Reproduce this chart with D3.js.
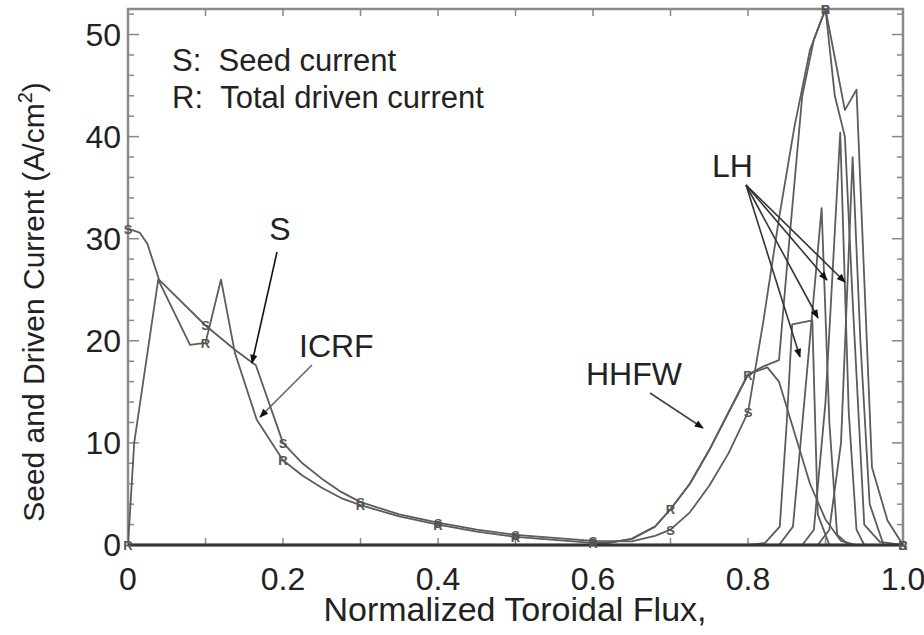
<!DOCTYPE html>
<html>
<head>
<meta charset="utf-8">
<script src="https://cdn.jsdelivr.net/npm/d3@7"></script>
<style>
  body { margin: 0; background: #fff; }
  text { font-family: "Liberation Sans", Arial, sans-serif; fill: #222; white-space: pre; }
</style>
</head>
<body>
<svg id="chart" width="924" height="635"></svg>
<script>
// seed current profile (S markers)
var seedCurrent = [[0,31],[0.015,30.6],[0.025,29.5],[0.04,26],[0.1,21.5],[0.14,19],[0.165,17.6],[0.2,10],
  [0.225,8.0],[0.25,6.5],[0.275,5.2],[0.3,4.2],[0.35,3.0],[0.4,2.2],[0.45,1.5],[0.5,1.0],[0.55,0.7],[0.6,0.4],
  [0.65,0.35],[0.68,0.9],[0.7,1.5],[0.725,3.2],[0.75,5.8],[0.775,9],[0.8,13],[0.82,22],[0.84,32],[0.86,41],
  [0.88,48.5],[0.9,52.5],[0.925,42.6],[0.94,44.6],[0.96,7.6],[0.98,2.4],[1.0,0]];
// total driven current (R markers)
var totalCurrent = [[0,0],[0.008,10],[0.039,26],[0.08,19.6],[0.1,19.8],[0.12,26],[0.138,18.8],[0.166,12.3],
  [0.2,8.3],[0.225,6.8],[0.25,5.6],[0.275,4.6],[0.3,3.9],[0.35,2.8],[0.4,2.0],[0.45,1.3],[0.5,0.8],[0.55,0.5],
  [0.6,0.2],[0.62,0.2],[0.65,0.6],[0.68,1.8],[0.7,3.5],[0.725,6],[0.75,9.3],[0.775,13],[0.8,16.7],[0.82,17.5],
  [0.84,18.1],[0.85,27],[0.87,44],[0.885,49.5],[0.9,52.5],[0.912,44],[0.925,40],[0.935,24],[0.95,2],[0.97,0.3],[1.0,0]];
var hhfwCurrent = [[0.6,0],[0.62,0.2],[0.65,0.6],[0.68,1.8],[0.7,3.5],[0.725,6],[0.75,9.3],[0.775,13],[0.8,16.7],
  [0.825,17.4],[0.84,16],[0.86,11],[0.88,6],[0.9,2.5],[0.92,0.4],[0.94,0]];
var lh1 = [[0.8,0],[0.822,0.2],[0.841,1.8],[0.85,12],[0.857,21.6],[0.883,22],[0.89,3],[0.905,0]];
var lh2 = [[0.84,0],[0.858,1.8],[0.875,16],[0.895,33],[0.905,12],[0.915,1],[0.93,0]];
var lh3 = [[0.87,0],[0.885,1.5],[0.9,14],[0.919,40.4],[0.93,13],[0.94,1.5],[0.95,0]];
var lh4 = [[0.89,0],[0.905,1.5],[0.92,10],[0.935,38],[0.945,20],[0.957,4],[0.975,0]];

var markerX = [0,0.1,0.2,0.3,0.4,0.5,0.6,0.7,0.8,0.9,1.0];
var xTicks = [0,0.2,0.4,0.6,0.8,1.0];
var xTickLabels = ["0","0.2","0.4","0.6","0.8","1.0"];
var yTicks = [0,10,20,30,40,50];

var svg = d3.select("#chart");
var m = {left: 128, right: 903, top: 9, bottom: 545};

var x = d3.scaleLinear().domain([0,1]).range([m.left,m.right]);
var y = d3.scaleLinear().domain([0,52.5]).range([m.bottom,m.top]);

// arrowhead
var defs = svg.append("defs");
defs.append("marker")
  .attr("id","arrow").attr("viewBox","0 0 10 10").attr("refX",9).attr("refY",5)
  .attr("markerWidth",10).attr("markerHeight",9).attr("markerUnits","userSpaceOnUse")
  .attr("orient","auto")
  .append("path").attr("d","M0,1L10,5L0,9Z").attr("fill","#111");
defs.append("clipPath").attr("id","clip")
  .append("rect").attr("x",m.left).attr("y",m.top).attr("width",m.right-m.left).attr("height",m.bottom-m.top);

// ticks, inward
var ax = svg.append("g").attr("stroke","#888").attr("stroke-width",1.5);
d3.range(0,1.0001,0.1).forEach(function(t){
  ax.append("line").attr("x1",x(t)).attr("x2",x(t)).attr("y1",m.bottom).attr("y2",m.bottom-7);
  ax.append("line").attr("x1",x(t)).attr("x2",x(t)).attr("y1",m.top).attr("y2",m.top+7);
});
d3.range(0,52.1,2).forEach(function(t){
  var len = (t % 10 === 0) ? 11 : 6;
  ax.append("line").attr("x1",m.left).attr("x2",m.left+len).attr("y1",y(t)).attr("y2",y(t));
  ax.append("line").attr("x1",m.right).attr("x2",m.right-len).attr("y1",y(t)).attr("y2",y(t));
});

// frame
svg.append("rect").attr("x",m.left).attr("y",m.top).attr("width",m.right-m.left).attr("height",m.bottom-m.top)
  .attr("fill","none").attr("stroke","#8a8a8a").attr("stroke-width",2.5);

var line = d3.line().x(function(d){return x(d[0]);}).y(function(d){return y(d[1]);});
var curves = svg.append("g").attr("clip-path","url(#clip)");
[seedCurrent,totalCurrent,hhfwCurrent,lh1,lh2,lh3,lh4].forEach(function(c){
  curves.append("path").datum(c).attr("d",line)
    .attr("fill","none").attr("stroke","#5c5c5c").attr("stroke-width",1.8)
    .attr("stroke-linejoin","round");
});

svg.append("line").attr("x1",m.left).attr("x2",m.right).attr("y1",m.bottom).attr("y2",m.bottom)
  .attr("stroke","#333").attr("stroke-width",3);

// S and R point markers
function marks(c, letter){
  c.filter(function(d){ return markerX.some(function(k){ return Math.abs(k-d[0])<1e-6; }); })
   .forEach(function(d){
    svg.append("text").attr("x",x(d[0])).attr("y",y(d[1])+5)
      .attr("text-anchor","middle").style("font-size","13px").style("font-weight","bold")
      .style("fill","#555").text(letter);
  });
}
marks(seedCurrent,"S");
marks(totalCurrent,"R");

// axes labels
xTicks.forEach(function(t,i){
  svg.append("text").attr("x",x(t)).attr("y",590).attr("text-anchor","middle")
    .style("font-size","32px").text(xTickLabels[i]);
});
yTicks.forEach(function(t){
  svg.append("text").attr("x",121).attr("y",y(t)+11).attr("text-anchor","end")
    .style("font-size","32px").text(t);
});
svg.append("text").attr("x",515).attr("y",621).attr("text-anchor","middle")
  .style("font-size","34px").text("Normalized Toroidal Flux,");
var yt = svg.append("text").attr("transform","translate(44,302) rotate(-90)")
  .attr("text-anchor","middle").style("font-size","30px");
yt.append("tspan").text("Seed and Driven Current (A/cm");
yt.append("tspan").attr("dy",-12).style("font-size","20px").text("2");
yt.append("tspan").attr("dy",12).text(")");

// legend
svg.append("text").attr("x",172).attr("y",71).style("font-size","31px").text("S:\u00a0\u00a0Seed current");
svg.append("text").attr("x",172).attr("y",108).style("font-size","31px").text("R:\u00a0\u00a0Total driven current");

// annotations
function arrow(x1,y1,x2,y2,col){
  svg.append("line").attr("x1",x1).attr("y1",y1).attr("x2",x2).attr("y2",y2)
    .attr("stroke",col).attr("stroke-width",1.6).attr("marker-end","url(#arrow)");
}
svg.append("text").attr("x",280).attr("y",240).attr("text-anchor","middle").style("font-size","32px").text("S");
arrow(277,252,252,363,"#111");
svg.append("text").attr("x",299).attr("y",357).style("font-size","32px").text("ICRF");
arrow(312,365,260,417,"#666");
svg.append("text").attr("x",586).attr("y",385).style("font-size","32px").text("HHFW");
arrow(650,393,703,428,"#444");
svg.append("text").attr("x",712).attr("y",177).style("font-size","32px").text("LH");
arrow(746,185,827,280,"#333");
arrow(746,185,845,282,"#333");
arrow(746,185,818,318,"#333");
arrow(746,185,800,357,"#333");
</script>
</body>
</html>
